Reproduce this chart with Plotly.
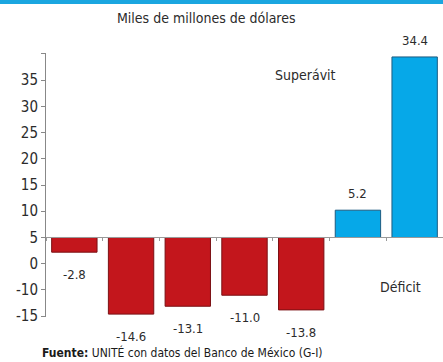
import plotly.graph_objects as go

years = ["2014", "2015", "2016", "2017", "2018", "2019", "2020"]
balance = [-2.8, -14.6, -13.1, -11.0, -13.8, 5.2, 34.4]
labels = ["-2.8", "-14.6", "-13.1", "-11.0", "-13.8", "5.2", "34.4"]
tick_vals = [35, 30, 25, 20, 15, 10, 5, 0, -5, -10, -15]
tick_text = ["", "35", "30", "25", "20", "15", "10", "5", "0", "-10", "-15"]

RED = "#C3161C"
BLUE = "#06A8E8"
FONT = "Liberation Sans Narrow, DejaVu Sans Condensed, Arial Narrow, sans-serif"
TXT = "#2b2b2b"

colors = [RED if v < 0 else BLUE for v in balance]
lines = ["#7a1014" if v < 0 else "#1d5c80" for v in balance]

fig = go.Figure(go.Bar(
    x=years, y=balance,
    marker=dict(color=colors, line=dict(color=lines, width=1)),
    hoverinfo="skip",
))

W, H = 443, 362
L, R, T, B = 46, 0, 53, 45
pw, ph = W - L - R, H - T - B

def px(xp):
    return (xp - L) / pw

def py(yp):
    return (H - B - yp) / ph

ann = []
for i, (v, t) in enumerate(zip(balance, labels)):
    ann.append(dict(x=i, y=v, xref="x", yref="y", text=t, showarrow=False,
                    yanchor="top" if v < 0 else "bottom",
                    yshift=-13 if v < 0 else 7,
                    font=dict(family=FONT, size=13, color=TXT)))

ann += [
    dict(x=px(206), y=py(18), xref="paper", yref="paper", text="Miles de millones de dólares",
         showarrow=False, xanchor="center", yanchor="middle",
         font=dict(family=FONT, size=14, color=TXT)),
    dict(x=px(305), y=py(75), xref="paper", yref="paper", text="Superávit",
         showarrow=False, xanchor="center", yanchor="middle",
         font=dict(family=FONT, size=14, color=TXT)),
    dict(x=px(400), y=py(287), xref="paper", yref="paper", text="Déficit",
         showarrow=False, xanchor="center", yanchor="middle",
         font=dict(family=FONT, size=14, color=TXT)),
    dict(x=px(40), y=py(352), xref="paper", yref="paper",
         text="<b>Fuente:</b> UNITÉ con datos del Banco de México (G-I)",
         showarrow=False, xanchor="left", yanchor="middle",
         font=dict(family=FONT, size=12, color="#1a1a1a")),
]

ymin, ymax = -15.15, 35.15
fig.update_layout(
    width=W, height=H,
    margin=dict(l=L, r=R, t=T, b=B, pad=0),
    paper_bgcolor="white", plot_bgcolor="white",
    showlegend=False, bargap=0.2,
    annotations=ann,
    shapes=[dict(type="rect", xref="paper", yref="paper",
                 x0=px(0), x1=px(W), y0=py(4), y1=py(0),
                 fillcolor="#1AA6E0", line=dict(width=0))],
    xaxis=dict(type="category", showticklabels=False, showgrid=False, zeroline=False,
               showline=True, linecolor="#999999", linewidth=1,
               ticks="outside", ticklen=3, tickcolor="#999999",
               tickson="boundaries", anchor="free",
               position=(0 - ymin) / (ymax - ymin),
               range=[-0.5, 6.5]),
    yaxis=dict(range=[ymin, ymax], showgrid=False, zeroline=False,
               showline=True, linecolor="#888888", linewidth=1,
               ticks="outside", ticklen=4, tickcolor="#888888",
               ticksuffix="\u2004",
               tickvals=tick_vals, ticktext=tick_text,
               tickfont=dict(family=FONT, size=15, color=TXT)),
)

fig.write_html("out.html")
